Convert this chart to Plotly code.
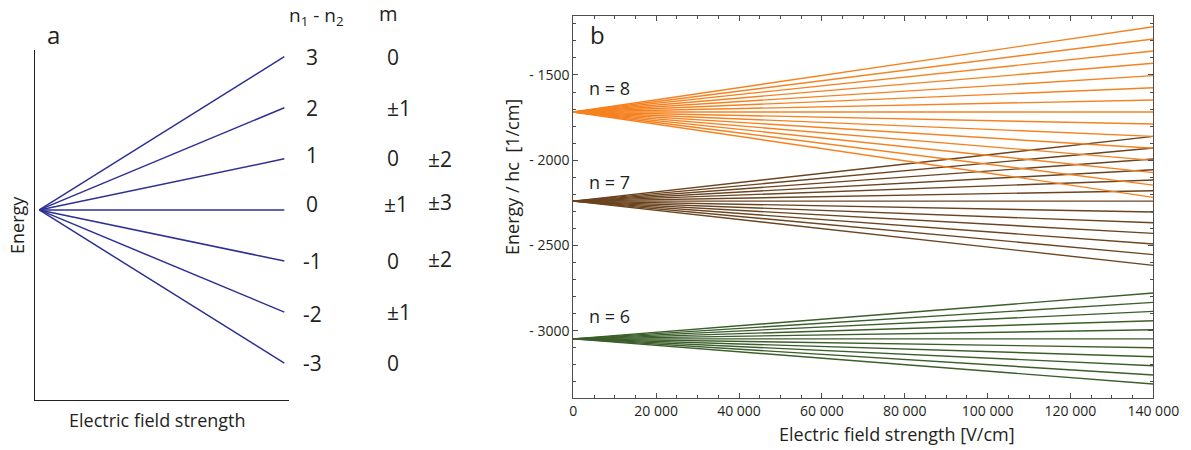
import plotly.graph_objects as go

# ---------------- data ----------------
# Panel a: schematic Stark splitting for n = 4 (n1 - n2 values)
a_k = [3, 2, 1, 0, -1, -2, -3]
a_k_labels = ["3", "2", "1", "0", "-1", "-2", "-3"]
a_m_labels = ["0", "±1", "0", "±1", "0", "±1", "0"]
a_m2_labels = ["", "", "±2", "±3", "±2", "", ""]

# Panel b: hydrogen Stark fans (energy / hc in 1/cm) at 0 and 140 000 V/cm
field_end = 140000
n_levels = ["n = 8", "n = 7", "n = 6"]
start_n8 = -1717
start_n7 = -2240
start_n6 = -3048
end_n8 = [-1217, -1289, -1359, -1431, -1504, -1575, -1647, -1717,
          -1788, -1860, -1930, -2001, -2073, -2146, -2218]
end_n7 = [-1860, -1928, -1993, -2056, -2116, -2179, -2240, -2304,
          -2367, -2429, -2492, -2554, -2617]
end_n6 = [-2779, -2834, -2887, -2942, -2995, -3048, -3100, -3153,
          -3206, -3260, -3313]

x_tickvals = [0, 20000, 40000, 60000, 80000, 100000, 120000, 140000]
x_ticktext = ["0", "20 000", "40 000", "60 000", "80 000", "100 000", "120 000", "140 000"]
y_tickvals = [-1500, -2000, -2500, -3000]
y_ticktext = ["- 1500", "- 2000", "- 2500", "- 3000"]

# ---------------- style ----------------
W, H = 1191, 450
FONT = "Open Sans"
TXT = "#231F20"
BLUE = "#2E3192"
ORANGE = "#F58220"
BROWN = "#6B4420"
GREEN = "#3B5E2B"
FRAME = "#4D4D4F"


def px(x):
    return x / W


def py(y):
    return 1 - y / H


fig = go.Figure()

# Panel a lines
for k in a_k:
    fig.add_trace(go.Scatter(x=[0, 1], y=[0, k], mode="lines",
                             line=dict(color=BLUE, width=1.5),
                             xaxis="x2", yaxis="y2", showlegend=False,
                             hoverinfo="skip"))


def fan(start, ends):
    xs, ys = [], []
    for e in ends:
        xs += [0, field_end, None]
        ys += [start, e, None]
    return xs, ys


for start, ends, col in [(start_n6, end_n6, GREEN),
                         (start_n7, end_n7, BROWN),
                         (start_n8, end_n8, ORANGE)]:
    xs, ys = fan(start, ends)
    fig.add_trace(go.Scatter(x=xs, y=ys, mode="lines",
                             line=dict(color=col, width=1.4),
                             xaxis="x", yaxis="y", showlegend=False))

ann = []


def note(text, x, y, size, xanchor="center", yref="paper", yshift=0, angle=0):
    ann.append(dict(text=text, x=px(x), y=(py(y) if yref == "paper" else y),
                    xref="paper", yref=yref, xanchor=xanchor, yanchor="middle",
                    yshift=yshift, textangle=angle, showarrow=False,
                    font=dict(size=size, color=TXT, family=FONT)))


# panel a annotations
note("a", 53, 34, 24)
note("Energy", 17, 225, 18, angle=-90)
note("Electric field strength", 157, 420, 18)
note("n<sub>1</sub> - n<sub>2</sub>", 316, 16, 19)
note("m", 389, 14, 20)

k_shift = [0, 0, 3.5, 5.5, 0, -2, 0]
m_x = [385, 385, 385, 381.5, 385, 385, 385]
m_shift = [0, 0, 1, 6, 0, 0, 0]
m2_shift = [0, 0, 0, 7.7, 2, 0, 0]
for i, k in enumerate(a_k):
    note(a_k_labels[i], 312, k, 21, yref="y2", yshift=k_shift[i])
    note(a_m_labels[i], m_x[i], k, 21, xanchor="left", yref="y2", yshift=m_shift[i])
    if a_m2_labels[i]:
        note(a_m2_labels[i], 426, k, 21, xanchor="left", yref="y2", yshift=m2_shift[i])

# panel b annotations
note("b", 588, 34, 24, xanchor="left")
for lab, yy in zip(n_levels, [88, 182, 316]):
    note(lab, 587, yy, 18, xanchor="left")
note("Energy / hc  [1/cm]", 512, 177, 18, angle=-90)
note("Electric field strength [V/cm]", 897, 434, 18)

fig.update_layout(
    template="none",
    width=W, height=H,
    margin=dict(l=0, r=0, t=0, b=0, pad=0, autoexpand=False),
    paper_bgcolor="white", plot_bgcolor="white",
    font=dict(family=FONT, color=TXT),
    showlegend=False,
    annotations=ann,
    xaxis=dict(domain=[px(573.3), px(1153.3)], range=[0, 140000], automargin=False,
               tickvals=x_tickvals, ticktext=x_ticktext,
               ticks="inside", ticklen=5, tickcolor=FRAME, tickwidth=1,
               showline=True, linecolor=FRAME, linewidth=1, mirror="ticks",
               showgrid=False, zeroline=False,
               tickfont=dict(size=14, family=FONT, color=TXT),
               minor=dict(tickmode="linear", tick0=0, dtick=5000, ticks="inside",
                          ticklen=3, tickcolor=FRAME, showgrid=False)),
    yaxis=dict(domain=[py(398), py(16)], range=[-3395, -1154], automargin=False,
               tickvals=y_tickvals, ticktext=y_ticktext,
               ticks="inside", ticklen=5, tickcolor=FRAME, tickwidth=1,
               showline=True, linecolor=FRAME, linewidth=1, mirror="ticks",
               showgrid=False, zeroline=False,
               tickfont=dict(size=14, family=FONT, color=TXT),
               minor=dict(tickmode="linear", tick0=0, dtick=100, ticks="inside",
                          ticklen=3, tickcolor=FRAME, showgrid=False)),
    xaxis2=dict(domain=[px(35.3), px(289)], range=[-0.0163, 1.019], automargin=False,
                anchor="y2", showline=True, linecolor=TXT, linewidth=1,
                showticklabels=False, ticks="", showgrid=False, zeroline=False),
    yaxis2=dict(domain=[py(400), py(50)], range=[-3.72, 3.13], automargin=False,
                anchor="x2", showline=True, linecolor=TXT, linewidth=1,
                showticklabels=False, ticks="", showgrid=False, zeroline=False),
)

fig.write_html("out.html", config={"displayModeBar": False},
               post_script="document.body.style.margin='0';document.body.style.overflow='hidden';")
